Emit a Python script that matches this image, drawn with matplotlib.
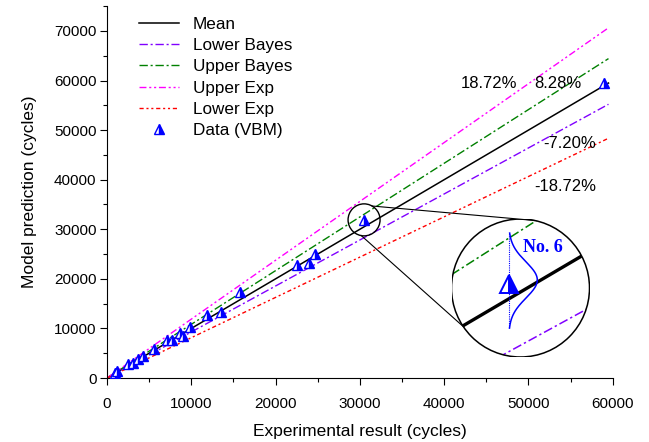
import numpy as np
import matplotlib
matplotlib.use("Agg")
import matplotlib.pyplot as plt
from matplotlib.patches import Circle
from matplotlib.lines import Line2D
from matplotlib.transforms import IdentityTransform

plt.rcParams['font.family'] = ['Liberation Sans', 'DejaVu Sans']

# ---- data ----
exp_cycles = [900, 1200, 2500, 3100, 3700, 4300, 5600, 7100, 7700, 8700, 9000,
              9800, 11900, 13500, 15800, 22500, 24000, 24700, 30500, 59000]
pred_cycles = [1000, 1500, 2800, 3000, 3800, 4400, 5900, 7700, 7700, 9000, 8500,
               10200, 12700, 13400, 17300, 22700, 23100, 25000, 31900, 59500]

line_names = ["Mean", "Lower Bayes", "Upper Bayes", "Upper Exp", "Lower Exp"]
line_factors = [1.0, 0.928, 1.0828, 1.1872, 0.8128]
line_colors = ["black", "#8000ff", "#008000", "#ff00ff", "#ff0000"]
line_styles = ["-", (0, (6, 2, 1.5, 2)), (0, (6, 2, 1.5, 2)),
               (0, (5, 2, 1.5, 2, 1.5, 2)), (0, (3, 2, 1.5, 2, 1.5, 2))]
line_x_end = 59500

pct_labels = ["18.72%", "8.28%", "-7.20%", "-18.72%"]
pct_x = [45330, 53450, 54930, 54400]
pct_y = [59500, 59500, 47300, 38700]

# inset (zoom of specimen No. 6)
inset_pt_x = 30500
inset_pt_y = 31130
pdf_mean = 31290
pdf_sd = 750
pdf_scale = 700
pdf_lo, pdf_hi = 29290, 33240

W, H = 649, 442
fig = plt.figure(figsize=(W / 100, H / 100), dpi=100)
ax = fig.add_axes([107 / W, 1 - 378 / H, 505.7 / W, 371.8 / H])

xs = np.array([0, line_x_end])
for name, f, c, ls in zip(line_names, line_factors, line_colors, line_styles):
    ax.plot(xs, f * xs, color=c, linestyle=ls, lw=1.1 if name == "Mean" else 1.0,
            label=name)
ax.plot(exp_cycles, pred_cycles, linestyle="none", marker="^", markersize=7.5,
        markeredgecolor="blue", markerfacecolor="blue", markerfacecoloralt="white",
        fillstyle="right", markeredgewidth=1.0, label="Data (VBM)", zorder=5)

for t, x, y in zip(pct_labels, pct_x, pct_y):
    ax.text(x, y, t, fontsize=12, ha="center", va="center")

ax.set_xlim(0, 60000)
ax.set_ylim(0, 75000)
ax.set_xticks(np.arange(0, 60001, 10000))
ax.set_yticks(np.arange(0, 70001, 10000))
ax.set_xticks(np.arange(0, 60001, 5000), minor=True)
ax.set_yticks(np.arange(0, 75001, 5000), minor=True)
ax.spines['top'].set_visible(False)
ax.spines['right'].set_visible(False)
ax.tick_params(which="major", direction="out", length=5, width=0.8, labelsize=11)
ax.tick_params(axis="x", which="major", pad=9)
ax.tick_params(axis="y", which="major", pad=2.5)
ax.tick_params(which="minor", direction="out", length=3, width=0.8)
ax.set_xlabel("Experimental result (cycles)", fontsize=12.5, labelpad=9)
ax.set_ylabel("Model prediction (cycles)", fontsize=12.5, labelpad=12.5)

leg = ax.legend(loc="upper left", bbox_to_anchor=(0.05, 0.99), frameon=False,
                fontsize=12.3, handlelength=2.35, handletextpad=0.8,
                labelspacing=0.37, borderaxespad=0.0)

# ---- inset circle ----
cxp, cyp, rp = 520.5, 288.0, 69.0   # pixel centre/radius (image coords)
Z = 4.85
kx = 505.7 / 60000 * Z
ky = 371.8 / 75000 * Z
cx = 30789
cy = 30955
hx = rp / kx
hy = rp / ky
axin = fig.add_axes([(cxp - rp) / W, 1 - (cyp + rp) / H, 2 * rp / W, 2 * rp / H])
axin.set_xlim(cx - hx, cx + hx)
axin.set_ylim(cy - hy, cy + hy)
axin.axis("off")
bg = Circle((0.5, 0.5), 0.5, transform=axin.transAxes, facecolor="white",
            edgecolor="none", zorder=0)
axin.add_patch(bg)
xi = np.array([cx - hx, cx + hx])
for name, f, c, ls in zip(line_names, line_factors, line_colors, line_styles):
    l, = axin.plot(xi, f * xi, color=c, linestyle=ls,
                   lw=2.4 if name == "Mean" else 1.1, zorder=2)
    l.set_clip_path(bg)
yy = np.linspace(pdf_lo, pdf_hi, 200)
axin.plot([inset_pt_x, inset_pt_x], [pdf_lo, pdf_hi], color="blue", lw=0.8,
          linestyle=(0, (1, 1)), zorder=3)
axin.plot(inset_pt_x + pdf_scale * np.exp(-(yy - pdf_mean) ** 2 / (2 * pdf_sd ** 2)),
          yy, color="blue", lw=1.1, zorder=3)
axin.plot([inset_pt_x], [inset_pt_y], linestyle="none", marker="^", markersize=13,
          markeredgecolor="blue", markerfacecolor="blue", markerfacecoloralt="white",
          fillstyle="right", markeredgewidth=1.4, zorder=4)
axin.text(cx + 551, cy + 1705, "No. 6", color="blue", fontsize=13, fontweight="bold",
          family=["Liberation Serif", "DejaVu Serif"], ha="center", va="center")
axin.add_patch(Circle((0.5, 0.5), 0.5, transform=axin.transAxes, facecolor="none",
                      edgecolor="black", lw=1.1, zorder=10))

# ---- small circle and connectors (display coords) ----
fig.canvas.draw()
sx, sy = ax.transData.transform((exp_cycles[-2], pred_cycles[-2]))
rs = 16.0
bx, by = cxp, H - cyp
fig.add_artist(Circle((sx, sy), rs, transform=IdentityTransform(), fill=False,
                      edgecolor="black", lw=1.0))
for a_s, a_b in [(60, 78), (-100, -146)]:
    p1 = (sx + rs * np.cos(np.radians(a_s)), sy + rs * np.sin(np.radians(a_s)))
    p2 = (bx + rp * np.cos(np.radians(a_b)), by + rp * np.sin(np.radians(a_b)))
    fig.add_artist(Line2D([p1[0], p2[0]], [p1[1], p2[1]], transform=IdentityTransform(),
                          color="black", lw=0.8))

fig.savefig("out.png", dpi=100)
